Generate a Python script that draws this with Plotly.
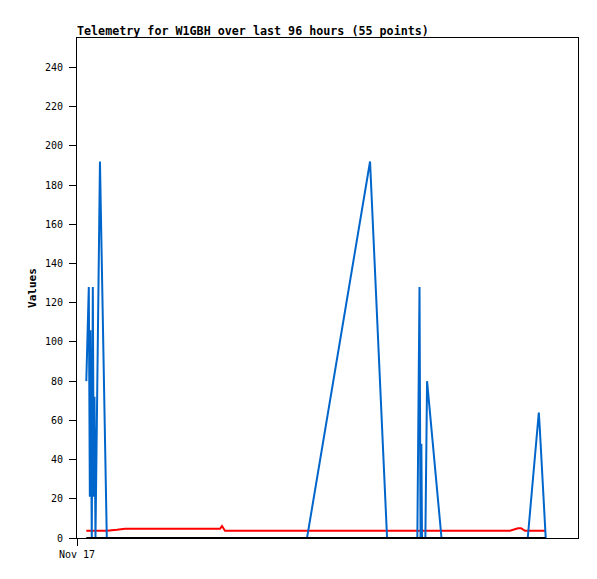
import plotly.graph_objects as go
import pandas as pd

# sample times (all series share them)
times = [
    "2023-11-17 01:56", "2023-11-17 02:27", "2023-11-17 02:40", "2023-11-17 02:47",
    "2023-11-17 03:04", "2023-11-17 03:17", "2023-11-17 03:29", "2023-11-17 03:38",
    "2023-11-17 03:50", "2023-11-17 04:46", "2023-11-17 06:11", "2023-11-17 08:18",
    "2023-11-17 09:58", "2023-11-18 05:41", "2023-11-18 06:06", "2023-11-18 06:43",
    "2023-11-18 23:45", "2023-11-19 12:50", "2023-11-19 16:22", "2023-11-19 22:39",
    "2023-11-19 23:06", "2023-11-19 23:19", "2023-11-19 23:29", "2023-11-19 23:37",
    "2023-11-20 00:19", "2023-11-20 00:40", "2023-11-20 03:40", "2023-11-20 17:53",
    "2023-11-20 19:33", "2023-11-20 20:10", "2023-11-20 21:00", "2023-11-20 21:34",
    "2023-11-20 23:52", "2023-11-21 00:04", "2023-11-21 01:18",
]
blue_vals = [80, 128, 21, 106, 0, 128, 21, 72, 0, 192, 0, 0,
             0, 0, 0, 0, 0, 192, 0, 0, 128, 0, 48, 0,
             0, 80, 0, 0, 0, 0, 0, 0, 64, 56, 0]
red_vals = [3.7, 3.7, 3.7, 3.7, 3.7, 3.7, 3.7, 3.7, 3.7, 3.7, 3.7, 4.2,
            4.7, 4.7, 6.1, 3.7, 3.7, 3.7, 3.7, 3.7, 3.7, 3.7, 3.7, 3.7,
            3.7, 3.7, 3.7, 3.7, 5.0, 5.0, 3.7, 3.7, 3.7, 3.7, 3.7]
black_vals = [0] * len(times)

x = pd.to_datetime(times)
mono = "DejaVu Sans Mono"

# page body has an 8px margin, so the figure is a bit smaller than the window
W, H = 589, 571

fig = go.Figure()
fig.add_trace(go.Scatter(x=x, y=red_vals, mode='lines', line=dict(color='#ff0000', width=2)))
fig.add_trace(go.Scatter(x=x, y=blue_vals, mode='lines', line=dict(color='#0066cc', width=2)))
fig.add_trace(go.Scatter(x=x, y=black_vals, mode='lines', line=dict(color='#000000', width=2)))

fig.update_layout(
    width=W, height=H,
    margin=dict(l=69, r=19, t=30, b=41),
    plot_bgcolor='white', paper_bgcolor='white',
    showlegend=False,
    font=dict(family=mono, size=10, color='black'),
    title=dict(text='<b>Telemetry for W1GBH over last 96 hours (55 points)</b>',
               x=69 / W, xanchor='left', xref='container',
               y=1 - 22.5 / H, yanchor='middle', yref='container',
               font=dict(family=mono, size=11.7, color='black')),
)
fig.update_xaxes(
    range=[pd.Timestamp("2023-11-17 00:00"), pd.Timestamp("2023-11-21 08:00")],
    tickvals=[pd.Timestamp("2023-11-17 00:00")], ticktext=['Nov 17'],
    ticks='outside', ticklen=7, tickcolor='black',
    showline=True, linecolor='black', linewidth=1, mirror=True,
    showgrid=False, zeroline=False,
)
fig.update_yaxes(
    range=[0, 255], dtick=20, tick0=0,
    ticks='outside', ticklen=7, tickcolor='black', ticklabelstandoff=4,
    showline=True, linecolor='black', linewidth=1, mirror=True,
    showgrid=False, zeroline=False,
    title=dict(text='<b>Values</b>', standoff=6, font=dict(family=mono, size=11)),
)

fig.write_html("out.html")
